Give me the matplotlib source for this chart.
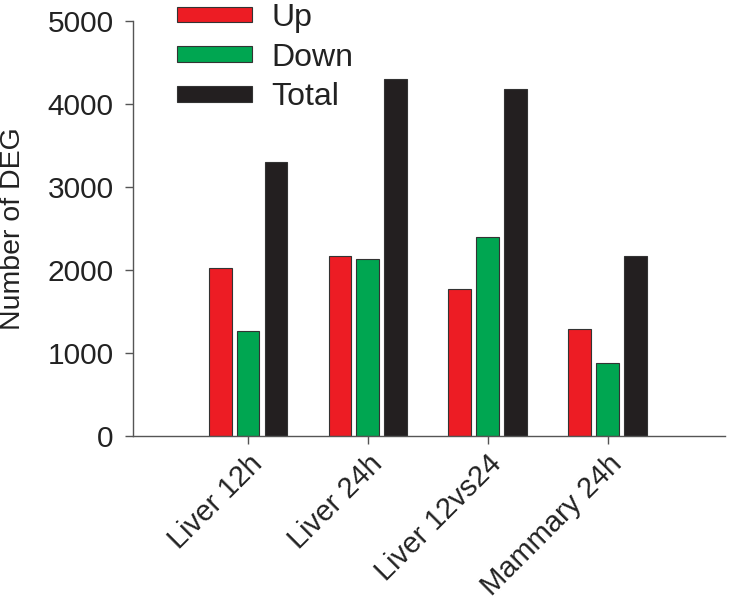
import numpy as np
import matplotlib
matplotlib.use("Agg")
import matplotlib.pyplot as plt

plt.rcParams['font.family'] = ['Liberation Sans', 'DejaVu Sans']

# data
categories = ['Liver 12h', 'Liver 24h', 'Liver 12vs24', 'Mammary 24h']
up_vals = [2030, 2165, 1775, 1290]
down_vals = [1270, 2130, 2400, 880]
total_vals = [3305, 4300, 4180, 2165]
series_names = ['Up', 'Down', 'Total']

colors = ['#ED1C24', '#00A651', '#231F20']

fig = plt.figure(figsize=(7.30, 6.02), dpi=100)
ax = fig.add_axes([133/730, 1 - 436/602, (725 - 133)/730, (436 - 21)/602])

x = np.arange(1, len(categories) + 1)
w = 0.19
off = 0.233
for i, (vals, name) in enumerate(zip([up_vals, down_vals, total_vals], series_names)):
    ax.bar(x + (i - 1) * off, vals, width=w, color=colors[i],
           edgecolor='#333333', linewidth=0.8, label=name)

ax.set_xlim(0.04, 4.98)
ax.set_ylim(0, 5000)
ax.set_yticks([0, 1000, 2000, 3000, 4000, 5000])
ax.set_xticks(x)
ax.set_xticklabels(categories, rotation=45, ha='right', rotation_mode='anchor')

for s in ['top', 'right']:
    ax.spines[s].set_visible(False)
for s in ['left', 'bottom']:
    ax.spines[s].set_color('#555555')
    ax.spines[s].set_linewidth(1.0)
ax.tick_params(axis='both', labelsize=21.5, color='#555555', length=6, width=1.0,
               labelcolor='#222222')
ax.tick_params(axis='x', labelsize=21)
ax.tick_params(axis='y', pad=8)
ax.tick_params(axis='x', pad=4)
ax.set_ylabel('Number of DEG', fontsize=20.5, color='#222222')
ax.yaxis.set_label_coords(-0.18, 0.5)

leg = ax.legend(loc='upper left', bbox_to_anchor=(177/730, 1 - 3/602),
                bbox_transform=fig.transFigure, frameon=False, fontsize=23,
                handlelength=2.35, handleheight=0.38, handletextpad=0.6,
                labelspacing=0.3, borderpad=0, borderaxespad=0)
for t in leg.get_texts():
    t.set_color('#222222')

fig.savefig('out.png', dpi=100)
